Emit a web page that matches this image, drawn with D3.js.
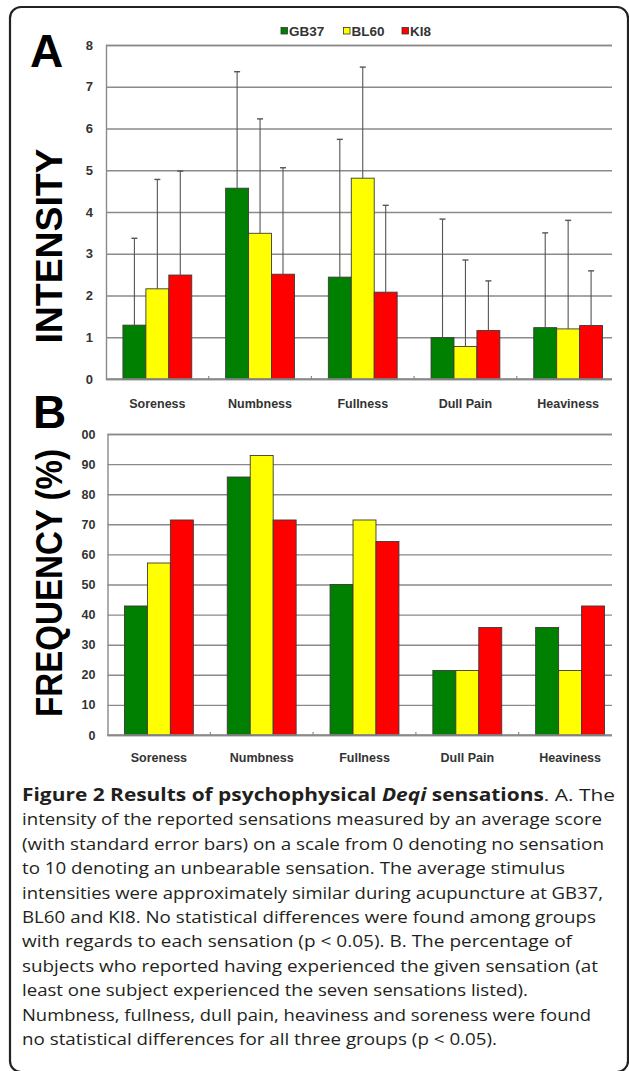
<!DOCTYPE html>
<html><head><meta charset="utf-8">
<script src="https://cdn.jsdelivr.net/npm/d3@7"></script>
<style>
html,body{margin:0;padding:0;background:#fff;}
svg{display:block;}
</style></head>
<body>
<svg id="c" width="629" height="1071"></svg>
<script>
// ---------- data ----------
const categories = ["Soreness","Numbness","Fullness","Dull Pain","Heaviness"];
const series = ["GB37","BL60","KI8"];
const seriesColors = ["#008000","#ffff00","#ff0000"];

// Panel A: intensity (mean) and standard error (upper bar only)
const intensityGB37 = [1.29, 4.57, 2.44, 0.99, 1.23];
const intensityBL60 = [2.16, 3.49, 4.81, 0.78, 1.20];
const intensityKI8  = [2.49, 2.51, 2.08, 1.16, 1.28];
const errorGB37 = [2.08, 2.79, 3.30, 2.84, 2.27];
const errorBL60 = [2.62, 2.74, 2.66, 2.07, 2.60];
const errorKI8  = [2.49, 2.55, 2.08, 1.19, 1.31];
const intensityTicks = [0,1,2,3,4,5,6,7,8];
const intensityTickLabels = ["0","1","2","3","4","5","6","7","8"];

// Panel B: frequency (%)
const freqGB37 = [42.86, 85.71, 50.00, 21.43, 35.71];
const freqBL60 = [57.14, 92.86, 71.43, 21.43, 21.43];
const freqKI8  = [71.43, 71.43, 64.29, 35.71, 42.86];
const freqTicks = [0,10,20,30,40,50,60,70,80,90,100];
const freqTickLabels = ["0","10","20","30","40","50","60","70","80","90","00"];

// caption
const captionLines = [
  [["Figure 2 Results of psychophysical ","b"],["Deqi","bi"],[" sensations","b"],[". A. The","n"]],
  [["intensity of the reported sensations measured by an average score","n"]],
  [["(with standard error bars) on a scale from 0 denoting no sensation","n"]],
  [["to 10 denoting an unbearable sensation. The average stimulus","n"]],
  [["intensities were approximately similar during acupuncture at GB37,","n"]],
  [["BL60 and KI8. No statistical differences were found among groups","n"]],
  [["with regards to each sensation (p < 0.05). B. The percentage of","n"]],
  [["subjects who reported having experienced the given sensation (at","n"]],
  [["least one subject experienced the seven sensations listed).","n"]],
  [["Numbness, fullness, dull pain, heaviness and soreness were found","n"]],
  [["no statistical differences for all three groups (p < 0.05).","n"]]
];
const captionLineEnds = [615, 602, 604, 565, 603, 596, 572, 598, 528, 591, 497];

// ---------- drawing ----------
const svg = d3.select("#c");
const FONT = "'Liberation Sans', Arial, sans-serif";

// frame
svg.append("rect").attr("x",10).attr("y",7).attr("width",618).attr("height",1065)
  .attr("rx",11).attr("fill","none").attr("stroke","#222").attr("stroke-width",2.2);

function panel(opts){
  const g = svg.append("g");
  const y = d3.scaleLinear().domain(opts.domain).range([opts.bottom, opts.top]);
  const x0 = d3.scaleBand().domain(categories).range([opts.left, opts.right])
    .paddingInner(0.33).paddingOuter(0.165);
  const x1 = d3.scaleBand().domain(series).range([0, x0.bandwidth()]);

  // grid + y labels via axis
  const ax = d3.axisLeft(y).tickValues(opts.ticks)
    .tickFormat((d,i)=>opts.tickLabels[i])
    .tickSize(-(opts.gridRight - opts.left)).tickPadding(opts.tickPad);
  const ag = g.append("g").attr("transform",`translate(${opts.left},0)`).call(ax);
  ag.select(".domain").attr("stroke","#8a8a8a").attr("stroke-width",1.4);
  ag.selectAll(".tick line").attr("stroke","#8a8a8a").attr("stroke-width",1.4);
  ag.selectAll(".tick text").attr("fill","#333").attr("font-family",FONT)
    .attr("font-weight","bold").attr("font-size",opts.tickFont);

  // category ticks (small, pointing up)
  const bounds = categories.slice(1).map(c => x0(c) - x0.step()*x0.paddingInner()/2);
  g.selectAll(".ct").data(bounds).join("line")
    .attr("x1",d=>d).attr("x2",d=>d).attr("y1",opts.bottom).attr("y2",opts.bottom-3)
    .attr("stroke","#8a8a8a").attr("stroke-width",1.2);

  // bars
  const groups = g.selectAll(".grp").data(categories).join("g")
    .attr("transform",c=>`translate(${x0(c)},0)`);
  groups.each(function(c,ci){
    const gg = d3.select(this);
    series.forEach((s,si)=>{
      const v = opts.values[si][ci];
      gg.append("rect").attr("x",x1(s)).attr("width",x1.bandwidth())
        .attr("y",y(v)).attr("height",y(0)-y(v))
        .attr("fill",seriesColors[si]).attr("stroke","#3a3a3a").attr("stroke-width",0.9);
      if(opts.errors){
        const e = opts.errors[si][ci];
        const cx = x1(s)+x1.bandwidth()/2;
        gg.append("line").attr("x1",cx).attr("x2",cx).attr("y1",y(v)).attr("y2",y(v+e))
          .attr("stroke","#555").attr("stroke-width",1.1);
        gg.append("line").attr("x1",cx-3).attr("x2",cx+3).attr("y1",y(v+e)).attr("y2",y(v+e))
          .attr("stroke","#555").attr("stroke-width",1.4);
      }
    });
  });

  // baseline on top
  g.append("line").attr("x1",opts.left).attr("x2",opts.gridRight)
    .attr("y1",opts.bottom).attr("y2",opts.bottom).attr("stroke","#8a8a8a").attr("stroke-width",1.4);

  // category labels
  g.selectAll(".cl").data(categories).join("text")
    .attr("x",c=>x0(c)+x0.bandwidth()/2).attr("y",opts.labelY)
    .attr("text-anchor","middle").attr("font-family",FONT).attr("font-weight","bold")
    .attr("font-size",12.5).attr("fill","#333").text(c=>c);

  // y title
  g.append("text").attr("transform",`translate(${opts.titleX},${opts.titleY}) rotate(-90)`)
    .attr("text-anchor","middle").attr("font-family",FONT).attr("font-weight","bold")
    .attr("font-size",opts.titleFont).attr("fill","#000")
    .attr("textLength",opts.titleLen).attr("lengthAdjust","spacingAndGlyphs")
    .text(opts.title);

  // panel letter
  g.append("text").attr("x",opts.letterX).attr("y",opts.letterY)
    .attr("font-family",FONT).attr("font-weight","bold").attr("font-size",46)
    .attr("fill","#000").text(opts.letter);
}

panel({
  domain:[0,8], top:45, bottom:379, left:106, right:619.5, gridRight:612,
  ticks:intensityTicks, tickLabels:intensityTickLabels, tickPad:13, tickFont:13,
  values:[intensityGB37,intensityBL60,intensityKI8],
  errors:[errorGB37,errorBL60,errorKI8],
  labelY:408, title:"INTENSITY", titleX:62, titleY:246, titleFont:37, titleLen:195,
  letter:"A", letterX:30, letterY:67
});

panel({
  domain:[0,100], top:434, bottom:735, left:107.5, right:621.5, gridRight:612,
  ticks:freqTicks, tickLabels:freqTickLabels, tickPad:12, tickFont:12.5,
  values:[freqGB37,freqBL60,freqKI8], errors:null,
  labelY:762, title:"FREQUENCY (%)", titleX:62, titleY:583, titleFont:37, titleLen:268,
  letter:"B", letterX:33, letterY:428
});

// legend
const leg = svg.append("g");
const legX = [281, 343.5, 402];
series.forEach((s,i)=>{
  leg.append("rect").attr("x",legX[i]).attr("y",27.5).attr("width",6.5).attr("height",6.5)
    .attr("fill",seriesColors[i]).attr("stroke","#333").attr("stroke-width",0.8);
  leg.append("text").attr("x",legX[i]+8).attr("y",35.5).attr("font-family",FONT)
    .attr("font-weight","bold").attr("font-size",13.5).attr("fill","#333").text(s);
});

// caption
const cap = svg.append("g");
const CF = "'Open Sans', 'Noto Sans', sans-serif";
captionLines.forEach((segs,i)=>{
  const t = cap.append("text").attr("x",22).attr("y",801+i*24.4)
    .attr("font-family",CF).attr("font-size",17).attr("fill","#231f20")
    .attr("textLength",captionLineEnds[i]-22).attr("lengthAdjust","spacingAndGlyphs");
  segs.forEach(([txt,st])=>{
    const ts = t.append("tspan").text(txt);
    if(st==="b"||st==="bi") ts.attr("font-weight","bold");
    if(st==="bi") ts.attr("font-style","italic");
  });
});
</script>
</body></html>
